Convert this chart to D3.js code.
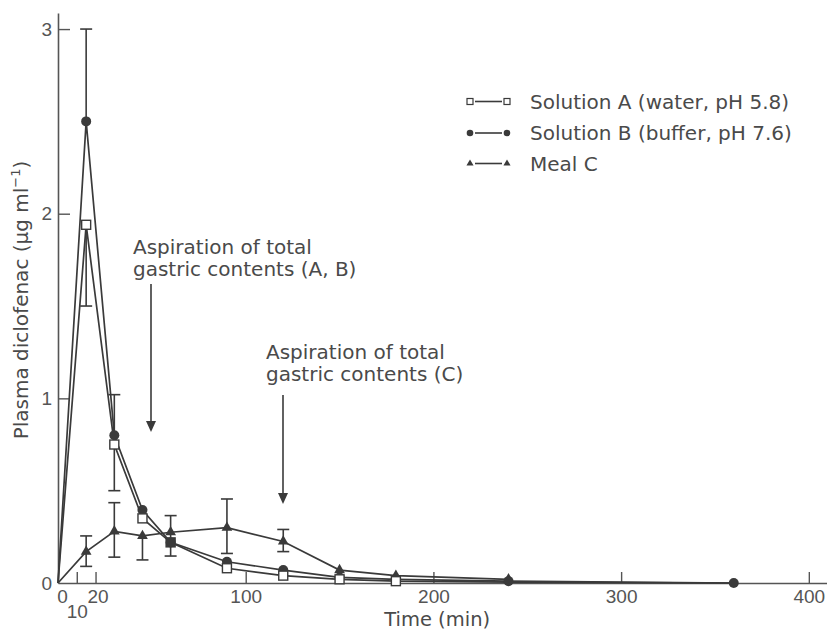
<!DOCTYPE html>
<html>
<head>
<meta charset="utf-8">
<script src="https://cdn.jsdelivr.net/npm/d3@7"></script>
<style>
  body { margin: 0; background: #fff; }
  svg { display: block; }
  text { font-family: "DejaVu Sans", sans-serif; fill: #4a4a4a; }
  .tick text { font-family: "Liberation Sans", Arial, sans-serif; font-size: 19px; fill: #555; }
</style>
</head>
<body>
<script>
// time points (min)
const times = [0, 15, 30, 45, 60, 90, 120, 150, 180, 240, 360];
const solutionA = [0, 1.94, 0.75, 0.35, 0.22, 0.08, 0.04, 0.02, 0.01, 0.005, 0];
const solutionB = [0, 2.5, 0.8, 0.395, 0.22, 0.115, 0.07, 0.03, 0.02, 0.01, 0];
const timesC = [0, 15, 30, 45, 60, 90, 120, 150, 180, 240];
const mealC = [0, 0.17, 0.28, 0.255, 0.275, 0.3, 0.225, 0.07, 0.04, 0.02];

// error bars: [time, low, high]  (null = not drawn)
const errA = [[15, 1.5, null], [30, 0.5, null]];
const errB = [[15, null, 3.0], [30, null, 1.02]];
const errC = [[15, 0.09, 0.255], [30, 0.14, 0.435], [45, 0.125, null], [60, 0.146, 0.365], [90, 0.16, 0.455], [120, 0.17, 0.29]];

const xTicks = [0, 10, 20, 100, 200, 300, 400];
const yTicks = [0, 1, 2, 3];

const legendLabels = ["Solution A (water, pH 5.8)", "Solution B (buffer, pH 7.6)", "Meal C"];

const W = 827, H = 631;
const ink = "#3a3a3a";

const x = d3.scaleLinear().domain([0, 410]).range([58, 827.6]);
const y = d3.scaleLinear().domain([0, 3.087]).range([583, 13]);

const svg = d3.select("body").append("svg")
  .attr("width", W)
  .attr("height", H);

// axes
const xAxis = svg.append("g")
  .attr("transform", `translate(0,${y(0)})`)
  .call(d3.axisBottom(x).tickValues(xTicks).tickSizeInner(-11).tickSizeOuter(0).tickPadding(7).tickFormat(d3.format("d")));
xAxis.select(".domain").attr("stroke", "#555").attr("stroke-width", 1.6);
xAxis.selectAll(".tick line").attr("stroke", "#555").attr("stroke-width", 1.4);
xAxis.selectAll(".tick").filter(d => d === 0).select("line").remove();
xAxis.selectAll(".tick").filter(d => d === 0).select("text").attr("dx", 4);
xAxis.selectAll(".tick").filter(d => d === 10).select("text").attr("dy", "1.45em");
xAxis.selectAll(".tick").filter(d => d === 20).select("text").attr("dx", 2);

const yAxis = svg.append("g")
  .attr("transform", `translate(${x(0)},0)`)
  .call(d3.axisLeft(y).tickValues(yTicks).tickSizeInner(-12).tickSizeOuter(0).tickPadding(6).tickFormat(d3.format("d")));
yAxis.select(".domain").attr("stroke", "#555").attr("stroke-width", 1.6);
yAxis.selectAll(".tick line").attr("stroke", "#555").attr("stroke-width", 1.4);
yAxis.selectAll(".tick").filter(d => d === 0).select("line").remove();

// axis titles
svg.append("text")
  .attr("x", x(202))
  .attr("y", 626)
  .attr("text-anchor", "middle")
  .attr("font-size", 19.5)
  .text("Time (min)");

const yl = svg.append("text")
  .attr("transform", `translate(28,${300}) rotate(-90)`)
  .attr("text-anchor", "middle")
  .attr("font-size", 20);
yl.append("tspan").text("Plasma diclofenac (\u03bcg ml");
yl.append("tspan").attr("font-size", 13).attr("dy", -8).text("\u22121");
yl.append("tspan").attr("dy", 8).text(")");

// lines
const line = d3.line().x(d => x(d[0])).y(d => y(d[1]));
const dataA = times.map((t, i) => [t, solutionA[i]]);
const dataB = times.map((t, i) => [t, solutionB[i]]);
const dataC = timesC.map((t, i) => [t, mealC[i]]);

[dataA, dataB, dataC].forEach(d => {
  svg.append("path")
    .attr("d", line(d))
    .attr("fill", "none")
    .attr("stroke", ink)
    .attr("stroke-width", 1.7);
});

// error bars
const capW = 12;
function drawErr(list, series) {
  list.forEach(([t, lo, hi]) => {
    const v = series.find(d => d[0] === t)[1];
    [lo, hi].forEach(e => {
      if (e === null) return;
      svg.append("line")
        .attr("x1", x(t)).attr("x2", x(t))
        .attr("y1", y(v)).attr("y2", y(e))
        .attr("stroke", ink).attr("stroke-width", 1.6);
      svg.append("line")
        .attr("x1", x(t) - capW / 2).attr("x2", x(t) + capW / 2)
        .attr("y1", y(e)).attr("y2", y(e))
        .attr("stroke", ink).attr("stroke-width", 1.6);
    });
  });
}
drawErr(errA, dataA);
drawErr(errB, dataB);
drawErr(errC, dataC);

// markers
const tri = d3.symbol().type(d3.symbolTriangle);
svg.selectAll(".mc").data(dataC.slice(1)).join("path")
  .attr("class", "mc")
  .attr("transform", d => `translate(${x(d[0])},${y(d[1])})`)
  .attr("d", tri.size(50))
  .attr("fill", ink);

svg.selectAll(".mb").data(dataB.slice(1)).join("circle")
  .attr("class", "mb")
  .attr("cx", d => x(d[0]))
  .attr("cy", d => y(d[1]))
  .attr("r", 5)
  .attr("fill", ink);

svg.selectAll(".ma").data(dataA.slice(1, 9)).join("rect")
  .attr("class", "ma")
  .attr("x", d => x(d[0]) - 4.5)
  .attr("y", d => y(d[1]) - 4.5)
  .attr("width", 9)
  .attr("height", 9)
  .attr("fill", d => d[0] === 60 ? ink : "#fff")
  .attr("stroke", ink)
  .attr("stroke-width", 1.4);

// annotations
function annotate(lines, tx, ty, ax, ay1, ay2) {
  const t = svg.append("text").attr("font-size", 20);
  lines.forEach((s, i) => {
    t.append("tspan").attr("x", tx).attr("y", ty + i * 22).text(s);
  });
  svg.append("line")
    .attr("x1", ax).attr("x2", ax)
    .attr("y1", ay1).attr("y2", ay2 - 9)
    .attr("stroke", ink).attr("stroke-width", 1.6);
  svg.append("path")
    .attr("d", `M${ax - 5},${ay2 - 11} L${ax + 5},${ay2 - 11} L${ax},${ay2} Z`)
    .attr("fill", ink);
}
annotate(["Aspiration of total", "gastric contents (A, B)"], 133, 254, 151, 284, 432);
annotate(["Aspiration of total", "gastric contents (C)"], 266, 359, 283, 395, 504);

// legend
const legY = [101.5, 133, 163.5];
const lg = svg.append("g");
legendLabels.forEach((lab, i) => {
  const yy = legY[i];
  lg.append("line")
    .attr("x1", 475).attr("x2", 502)
    .attr("y1", yy).attr("y2", yy)
    .attr("stroke", ink).attr("stroke-width", 1.6);
  [470, 507].forEach(cx => {
    if (i === 0) {
      lg.append("rect").attr("x", cx - 3).attr("y", yy - 3).attr("width", 6).attr("height", 6)
        .attr("fill", "#fff").attr("stroke", ink).attr("stroke-width", 1.2);
    } else if (i === 1) {
      lg.append("circle").attr("cx", cx).attr("cy", yy).attr("r", 3.3).attr("fill", ink);
    } else {
      lg.append("path").attr("transform", `translate(${cx},${yy})`)
        .attr("d", d3.symbol().type(d3.symbolTriangle).size(22)()).attr("fill", ink);
    }
  });
  lg.append("text")
    .attr("x", 530)
    .attr("y", yy + 7)
    .attr("font-size", 20)
    .text(lab);
});
</script>
</body>
</html>
